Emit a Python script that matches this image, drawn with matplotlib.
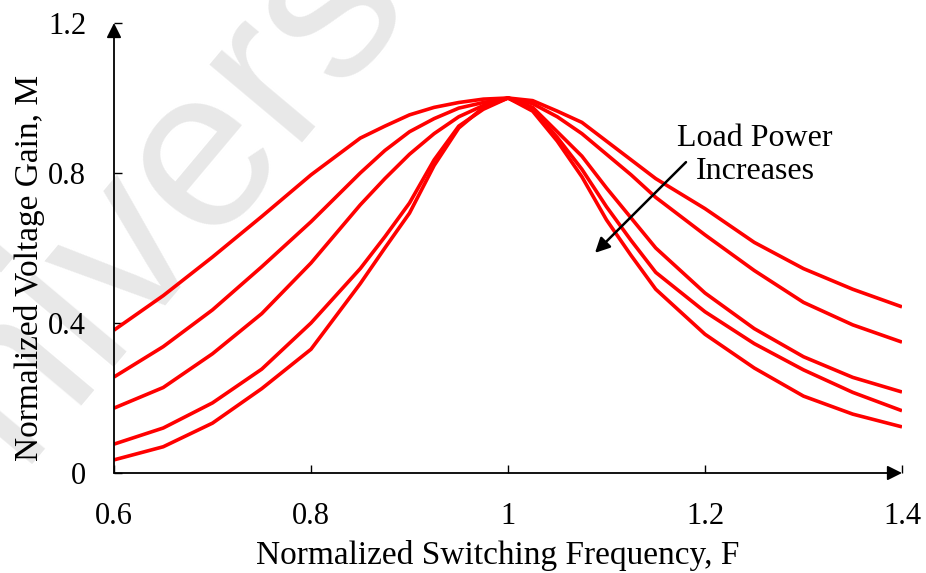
import matplotlib
matplotlib.use("Agg")
import matplotlib.pyplot as plt

# ---- data ----
freq = [0.60, 0.65, 0.70, 0.75, 0.80, 0.85, 0.875, 0.90, 0.925, 0.95, 0.975, 1.00,
        1.025, 1.05, 1.075, 1.10, 1.125, 1.15, 1.20, 1.25, 1.30, 1.35, 1.40]

gain_1 = [0.381, 0.473, 0.576, 0.684, 0.795, 0.893, 0.925, 0.955, 0.975, 0.988, 0.997, 1.000,
          0.993, 0.965, 0.935, 0.885, 0.835, 0.785, 0.705, 0.615, 0.545, 0.490, 0.443]
gain_2 = [0.256, 0.337, 0.435, 0.550, 0.670, 0.800, 0.860, 0.910, 0.945, 0.973, 0.988, 1.000,
          0.985, 0.950, 0.905, 0.850, 0.795, 0.735, 0.635, 0.540, 0.455, 0.395, 0.349]
gain_3 = [0.173, 0.228, 0.318, 0.425, 0.560, 0.715, 0.785, 0.850, 0.905, 0.950, 0.980, 1.000,
          0.975, 0.910, 0.845, 0.760, 0.680, 0.600, 0.480, 0.385, 0.310, 0.255, 0.216]
gain_4 = [0.077, 0.120, 0.187, 0.277, 0.400, 0.545, 0.630, 0.720, 0.835, 0.925, 0.970, 1.000,
          0.970, 0.895, 0.810, 0.710, 0.620, 0.535, 0.430, 0.345, 0.275, 0.215, 0.166]
gain_5 = [0.035, 0.070, 0.133, 0.225, 0.330, 0.505, 0.600, 0.693, 0.820, 0.920, 0.975, 1.000,
          0.965, 0.885, 0.790, 0.675, 0.580, 0.490, 0.370, 0.280, 0.205, 0.157, 0.123]

series = [gain_1, gain_2, gain_3, gain_4, gain_5]

x_ticks = [0.6, 0.8, 1.0, 1.2, 1.4]
x_tick_labels = ["0.6", "0.8", "1", "1.2", "1.4"]
y_ticks = [0.0, 0.4, 0.8, 1.2]
y_tick_labels = ["0", "0.4", "0.8", "1.2"]

serif = ["Liberation Serif", "DejaVu Serif"]

fig = plt.figure(figsize=(9.26, 5.73), dpi=100)

# faint watermark (behind everything)
fig.text(-0.097, -0.028, "University", fontsize=165, color="#e8e8e8",
         rotation=50, ha="left", va="baseline", family="Liberation Sans",
         zorder=-10, rotation_mode="anchor")

ax = fig.add_axes([114/926, 100/573, 788/926, 450/573])
ax.set_zorder(1)
ax.patch.set_alpha(0)

for g in series:
    ax.plot(freq, g, color="#ff0000", lw=2.6, solid_joinstyle="round",
            solid_capstyle="butt")

ax.set_xlim(0.6, 1.4)
ax.set_ylim(0.0, 1.2)
ax.set_xticks(x_ticks)
ax.set_xticklabels(x_tick_labels)
ax.set_yticks(y_ticks)
ax.set_yticklabels(y_tick_labels)

for s in ["top", "right", "left", "bottom"]:
    ax.spines[s].set_visible(False)

ax.tick_params(direction="in", length=6, width=1.0, colors="black",
               labelsize=22)
ax.tick_params(axis="x", pad=21)
ax.tick_params(axis="y", pad=20)
for lab in ax.get_xticklabels() + ax.get_yticklabels():
    lab.set_family(serif)

# axis lines with arrowheads
ax.annotate("", xy=(1, 0), xytext=(0, 0), xycoords="axes fraction",
            textcoords="axes fraction",
            arrowprops=dict(arrowstyle="-|>", color="black", lw=1.3,
                            mutation_scale=22, shrinkA=0, shrinkB=0),
            annotation_clip=False)
ax.annotate("", xy=(0, 1), xytext=(0, 0), xycoords="axes fraction",
            textcoords="axes fraction",
            arrowprops=dict(arrowstyle="-|>", color="black", lw=1.3,
                            mutation_scale=22, shrinkA=0, shrinkB=0),
            annotation_clip=False)

ax.set_xlabel("Normalized Switching Frequency, F", fontsize=24, family=serif)
ax.set_ylabel("Normalized Voltage Gain, M", fontsize=24, family=serif)
ax.xaxis.set_label_coords(0.487, -0.148)
ax.yaxis.set_label_coords(-0.088, 0.456)

# annotation
ax.text(1.2508, 0.848, "Load Power\nIncreases", fontsize=23, family=serif,
        ha="center", va="center", linespacing=1.15)
ax.annotate("", xy=(1.0883, 0.587), xytext=(1.1807, 0.829),
            arrowprops=dict(arrowstyle="-|>", color="black", lw=1.8,
                            mutation_scale=22, shrinkA=0, shrinkB=0))

fig.savefig("out.png", dpi=100)
